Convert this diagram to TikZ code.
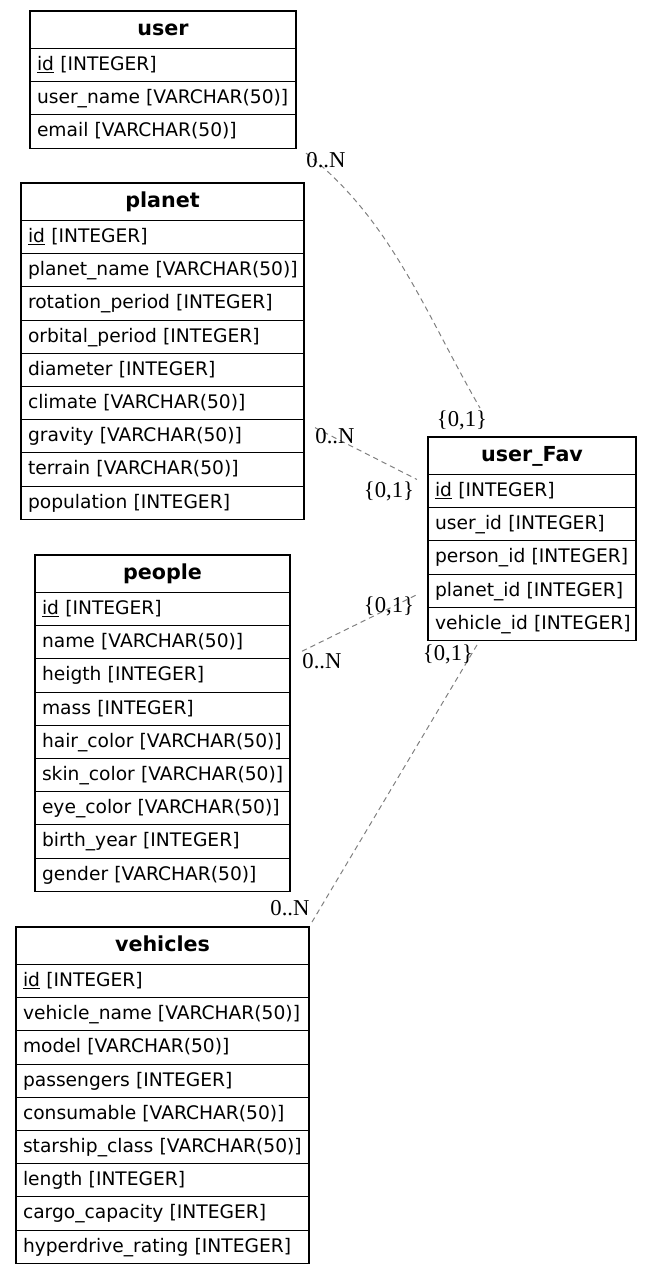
\documentclass[tikz,border=0pt]{standalone}
\usepackage{fontspec}
\setmainfont{DejaVu Sans}
\newfontfamily\cardfont{Liberation Serif}
\usetikzlibrary{positioning}
\tikzset{
    table title/.style={draw, anchor=north west, outer sep=0pt, inner sep=0pt, line width=0.8pt, minimum height=28.1pt, text height=11pt, text depth=3pt, font=\fontsize{15.5pt}{18pt}\selectfont\bfseries},
    table row/.style={draw, outer sep=0pt, inner xsep=5.25pt, inner ysep=0pt, line width=0.8pt, minimum height=24.9pt, align=left, text height=10.5pt, text depth=2.5pt, font=\fontsize{14pt}{17pt}\selectfont},
    card label/.style={anchor=base, inner sep=0pt, font=\cardfont\fontsize{17pt}{20pt}\selectfont},
    relation/.style={gray, line width=0.75pt, dash pattern=on 4pt off 3pt},
}
\newcommand{\erdtable}[5]{
    \pgfmathsetlengthmacro{\rowwd}{#3*0.75pt}
    \pgfmathsetlengthmacro{\rowtw}{#3*0.75pt-10.5pt}
    \node[table title, minimum width=\rowwd] (#1-0) at (#2) {#4};
    \foreach \row [count=\i, remember=\i as \prev (initially 0)] in {#5}
        \node[table row, text width=\rowtw, below=0pt of #1-\prev] (#1-\i) {\mbox{\row}};
}

\begin{document}
\begin{tikzpicture}[x=0.75pt, y=-0.75pt]
    \useasboundingbox (0,0) rectangle (652,1275);
    \erdtable{user}{30,11}{266}{user}{\underline{id} [INTEGER], user\_name [VARCHAR(50)], email [VARCHAR(50)]}
    \erdtable{planet}{21,183}{283}{planet}{\underline{id} [INTEGER], planet\_name [VARCHAR(50)], rotation\_period [INTEGER], orbital\_period [INTEGER], diameter [INTEGER], climate [VARCHAR(50)], gravity [VARCHAR(50)], terrain [VARCHAR(50)], population [INTEGER]}
    \erdtable{people}{35,555}{255}{people}{\underline{id} [INTEGER], name [VARCHAR(50)], heigth [INTEGER], mass [INTEGER], hair\_color [VARCHAR(50)], skin\_color [VARCHAR(50)], eye\_color [VARCHAR(50)], birth\_year [INTEGER], gender [VARCHAR(50)]}
    \erdtable{vehicles}{16,927}{293}{vehicles}{\underline{id} [INTEGER], vehicle\_name [VARCHAR(50)], model [VARCHAR(50)], passengers [INTEGER], consumable [VARCHAR(50)], starship\_class [VARCHAR(50)], length [INTEGER], cargo\_capacity [INTEGER], hyperdrive\_rating [INTEGER]}
    \erdtable{fav}{428,437}{208}{user\_Fav}{\underline{id} [INTEGER], user\_id [INTEGER], person\_id [INTEGER], planet\_id [INTEGER], vehicle\_id [INTEGER]}

    % relations
    \draw[relation] ([shift={(10,5)}]user-3.south east) to[out=-38, in=120, looseness=0.9] ([shift={(-52,-29)}]fav-0.north);
    \draw[relation] ([shift={(11,8)}]planet-7.north east) -- ([shift={(-11,-11.6)}]fav-1.west);
    \draw[relation] ([shift={(12,9)}]people-2.east) -- ([shift={(-11,4)}]fav-4.west);
    \draw[relation] ([shift={(-55,4.5)}]fav-5.south) -- ([shift={(3,-5)}]vehicles-0.north east);

    \node[card label] (card-u1) at (326,167) {0..N};
    \node[card label] (card-u2) at (462,426) {\{0,1\}};
    \node[card label] (card-p1) at (335,443) {0..N};
    \node[card label] (card-p2) at (389,497) {\{0,1\}};
    \node[card label] (card-h1) at (389,612) {\{0,1\}};
    \node[card label] (card-h2) at (322,668) {0..N};
    \node[card label] (card-v1) at (448,660) {\{0,1\}};
    \node[card label] (card-v2) at (290,915) {0..N};
\end{tikzpicture}
\end{document}
